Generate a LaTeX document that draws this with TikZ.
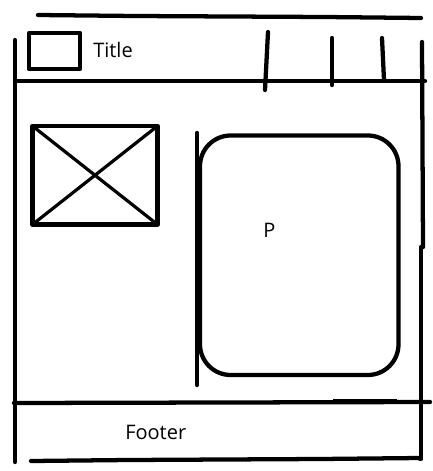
\documentclass[tikz,border=0pt]{standalone}
\usepackage{fontspec}
\setmainfont{Open Sans}
\begin{document}
\begin{tikzpicture}[x=0.75pt,y=-0.75pt,
  pen/.style={line width=3.2pt, line cap=round, line join=round},
  thinpen/.style={line width=2.4pt},
  lbl/.style={font=\fontsize{15}{18}\selectfont, inner sep=0pt, anchor=base west}]
\useasboundingbox (0,0) rectangle (432,471);
% outer frame
\draw[pen] (15,40) -- (15,462);
\draw[pen] (38,15) -- (135,16) -- (325,17) -- (421,18);
\draw[pen] (15,81) -- (425,81);
\draw[pen] (422,42) -- (423,247);
\draw[pen] (421,247) -- (421,459) -- (420,459);
\draw[pen] (31,461) -- (128,460) -- (320,459) -- (420,458);
% header ticks
\draw[pen] (268,32) -- (265,90);
\draw[pen] (332,38) -- (332,85);
\draw[pen] (382,38) -- (384,80);
% footer line
\draw[pen] (14,403) -- (430,402);
\draw[line width=1.8pt] (333,400) -- (397,400);
% title box
\draw[pen, line cap=butt] (29,33) rectangle (80,69);
\node[lbl] (title) at (93,57) {Title};
% image placeholder
\draw[pen, line cap=butt] (32.5,126) rectangle (157.5,224.5);
\draw[thinpen] (32.5,126) -- (157.5,224.5);
\draw[thinpen] (32.5,224.5) -- (157.5,126);
% panel
\draw[pen] (197,133) -- (197,385);
\draw[pen, rounded corners=23pt] (200,135.5) rectangle (398.5,375);
\node[lbl] (p) at (263,237) {P};
% footer text
\node[lbl] (footer) at (125,439) {Footer};
\end{tikzpicture}
\end{document}
